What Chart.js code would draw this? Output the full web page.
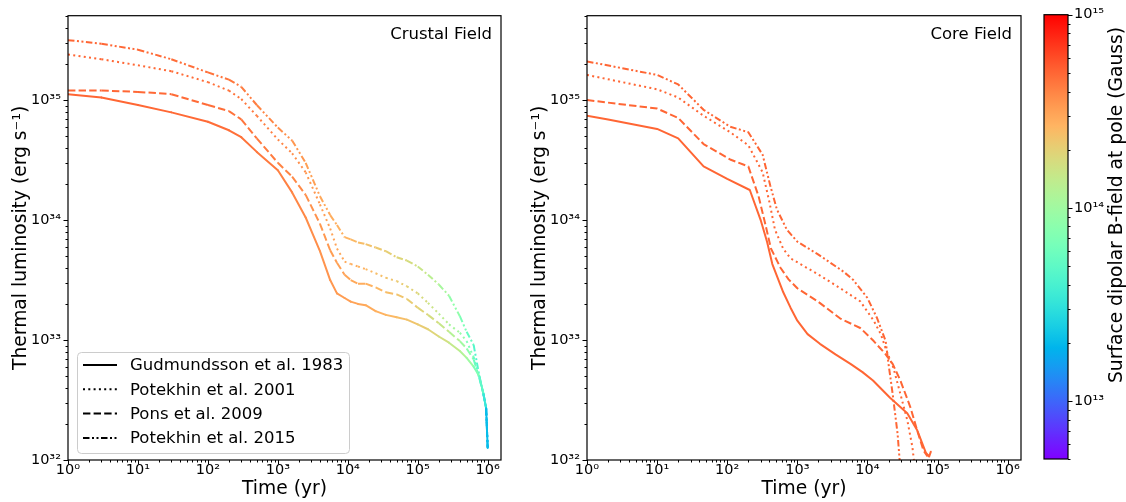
<!DOCTYPE html>
<html>
<head>
<meta charset="utf-8">
<title>Thermal luminosity of magnetars: crustal vs core field</title>
<script src="https://cdn.jsdelivr.net/npm/chart.js@4.4.1/dist/chart.umd.min.js"></script>
<style>
    html, body { margin: 0; padding: 0; background: #fff; }
    #figure { position: relative; width: 1126px; height: 502px; overflow: hidden; }
    #figure canvas { position: absolute; top: 0; }
</style>
</head>
<body>
<div id="figure">
    <canvas id="crustChart" width="520" height="502" style="left:0"></canvas>
    <canvas id="coreChart" width="520" height="502" style="left:519px"></canvas>
    <canvas id="fieldBar" width="96" height="502" style="left:1030px"></canvas>
</div>
<script>
// ===== Data =====
const modelNames = ['Gudmundsson et al. 1983', 'Potekhin et al. 2001', 'Pons et al. 2009', 'Potekhin et al. 2015'];

// Crustal field panel: common age grid (yr)
const crustAges = [1, 3, 10, 30, 100, 200, 300, 500, 1e3, 1.6e3, 2.5e3, 4e3, 5.6e3, 7e3, 9e3, 1.1e4, 1.4e4,
    1.8e4, 2.5e4, 3.5e4, 5e4, 7e4, 1e5, 1.4e5, 2e5, 2.8e5, 4e5, 5e5, 6.3e5, 7.6e5, 8.7e5, 9.5e5, 1e6];

// thermal luminosity (erg/s)
const crustLumGudmundsson = [1.12e35, 1.05e35, 9.1e34, 7.9e34, 6.6e34, 5.6e34, 4.9e34, 3.7e34, 2.6e34, 1.7e34, 1.05e34,
    5.5e33, 3.16e33, 2.45e33, 2.24e33, 2.09e33, 2.0e33, 1.95e33, 1.74e33, 1.62e33, 1.55e33, 1.48e33, 1.35e33, 1.23e33,
    1.07e33, 9.5e32, 8.1e32, 7.1e32, 6.0e32, 5.0e32, 3.55e32, 2.7e32, 1.26e32];
const crustLumPotekhin2001 = [2.4e35, 2.19e35, 1.95e35, 1.74e35, 1.41e35, 1.2e35, 1.02e35, 7.4e34, 4.7e34, 3.6e34, 2.5e34,
    1.35e34, 8.5e33, 5.8e33, 4.5e33, 4.3e33, 4.1e33, 3.9e33, 3.6e33, 3.3e33, 3.1e33, 2.8e33, 2.45e33, 2.04e33,
    1.66e33, 1.35e33, 1.15e33, 9.8e32, 7.2e32, 4.9e32, 3.55e32, 2.7e32, 1.26e32];
const crustLumPons = [1.2e35, 1.2e35, 1.17e35, 1.12e35, 9.1e34, 8.1e34, 6.9e34, 4.8e34, 3.0e34, 2.3e34, 1.62e34,
    9.3e33, 5.6e33, 4.4e33, 3.5e33, 3.16e33, 2.95e33, 2.95e33, 2.75e33, 2.5e33, 2.4e33, 2.2e33, 1.86e33, 1.62e33,
    1.38e33, 1.17e33, 9.8e32, 8.5e32, 6.9e32, 4.8e32, 3.55e32, 2.7e32, 1.26e32];
const crustLumPotekhin2015 = [3.16e35, 2.95e35, 2.63e35, 2.19e35, 1.7e35, 1.48e35, 1.29e35, 9.1e34, 5.9e34, 4.6e34, 3.0e34,
    1.58e34, 1.1e34, 9.1e33, 7.2e33, 6.9e33, 6.5e33, 6.3e33, 5.9e33, 5.5e33, 4.9e33, 4.6e33, 4.1e33, 3.5e33,
    2.9e33, 2.34e33, 1.58e33, 1.17e33, 9.1e32, 5.0e32, 3.55e32, 2.7e32, 1.26e32];

// surface dipolar field at the pole along each crustal track (units of 1e14 G)
const crustFieldGudmundsson = [5.0, 5.0, 4.95, 4.9, 4.8, 4.7, 4.6, 4.45, 4.2, 4.0, 3.8, 3.6, 3.45, 3.35, 3.25, 3.15, 3.05,
    2.95, 2.8, 2.65, 2.5, 2.35, 2.2, 2.0, 1.8, 1.55, 1.3, 1.1, 0.85, 0.6, 0.42, 0.28, 0.15];
const crustFieldPotekhin2001 = [5.0, 5.0, 4.92, 4.85, 4.7, 4.6, 4.45, 4.3, 4.0, 3.8, 3.55, 3.3, 3.15, 3.05, 2.95, 2.85, 2.75,
    2.65, 2.5, 2.35, 2.2, 2.05, 1.85, 1.65, 1.45, 1.2, 0.95, 0.8, 0.62, 0.45, 0.34, 0.25, 0.15];
const crustFieldPons = [5.0, 5.0, 4.93, 4.87, 4.75, 4.65, 4.52, 4.38, 4.1, 3.9, 3.7, 3.45, 3.3, 3.2, 3.1, 3.0, 2.9,
    2.8, 2.65, 2.5, 2.35, 2.2, 2.0, 1.8, 1.6, 1.35, 1.1, 0.92, 0.72, 0.5, 0.38, 0.27, 0.15];
const crustFieldPotekhin2015 = [5.0, 5.0, 4.9, 4.8, 4.6, 4.45, 4.3, 4.1, 3.8, 3.55, 3.3, 3.05, 2.9, 2.8, 2.7, 2.6, 2.5,
    2.4, 2.25, 2.1, 1.95, 1.8, 1.6, 1.4, 1.2, 0.95, 0.75, 0.62, 0.5, 0.4, 0.32, 0.24, 0.15];

// Core field panel (constant field)
const coreField = 5.0; // 1e14 G
const coreAgesGudmundsson = [1, 2, 10, 20, 46, 100, 210, 300, 370, 440, 630, 800, 1000, 1400, 2100, 3500, 5800, 8500,
    12000, 21000, 37000, 51000, 68000, 76000, 80000];
const coreLumGudmundsson = [7.4e34, 6.9e34, 5.75e34, 4.8e34, 2.8e34, 2.2e34, 1.78e34, 1.0e34, 6.6e33, 4.3e33, 2.5e33,
    1.86e33, 1.45e33, 1.12e33, 9.3e32, 7.6e32, 6.3e32, 5.4e32, 4.6e32, 3.3e32, 2.45e32, 1.78e32, 1.15e32, 1.07e32, 1.17e32];
const coreAgesPotekhin2001 = [1, 10, 20, 46, 110, 200, 320, 400, 480, 630, 800, 1100, 1950, 4100, 7900, 12300, 15500,
    18200, 23400, 29500, 37000, 43700, 46000];
const coreLumPotekhin2001 = [1.62e35, 1.23e35, 1.05e35, 7.4e34, 5.4e34, 4.2e34, 2.5e34, 1.41e34, 8.3e33, 5.75e33, 4.8e33,
    4.3e33, 3.55e33, 2.7e33, 2.1e33, 1.45e33, 1.12e33, 8.5e32, 5.9e32, 3.55e32, 2.15e32, 1.29e32, 1.0e32];
const coreAgesPons = [1, 10, 20, 46, 110, 200, 280, 355, 420, 575, 750, 1000, 1950, 4100, 7900, 12300, 18200, 23000,
    29500, 41000, 51000, 63000, 72000];
const coreLumPons = [1.0e35, 8.5e34, 7.1e34, 4.3e34, 3.2e34, 2.8e34, 1.58e34, 8.9e33, 5.8e33, 4.0e33, 3.2e33, 2.7e33,
    2.1e33, 1.51e33, 1.26e33, 9.8e32, 7.6e32, 6.3e32, 4.6e32, 2.75e32, 1.78e32, 1.2e32, 1.07e32];
const coreAgesPotekhin2015 = [1, 10, 20, 46, 110, 200, 320, 410, 510, 710, 1000, 1950, 4600, 6300, 10000, 13800, 18200,
    20000, 22900, 26900, 28800];
const coreLumPotekhin2015 = [2.1e35, 1.62e35, 1.35e35, 8.3e34, 6.0e34, 5.4e34, 3.5e34, 1.95e34, 1.23e34, 8.3e33, 6.6e33,
    5.2e33, 3.7e33, 3.16e33, 2.24e33, 1.51e33, 9.8e32, 6.3e32, 3.55e32, 1.66e32, 1.0e32];

// axis ranges
const AGE_MIN = 1, AGE_MAX = 1.55e6;
const LUM_MIN = 1e32, LUM_MAX = 5.05e35;
const FIELD_MIN = 5e12, FIELD_MAX = 1e15, FIELD_UNIT = 1e14;

// ===== Helpers =====
Chart.defaults.font.family = "'DejaVu Sans', sans-serif";
Chart.defaults.color = '#000';
const TITLE_FONT = "18.7px 'DejaVu Sans'";

// matplotlib "rainbow" colormap
function rainbow(x) {
    x = Math.max(0, Math.min(1, x));
    const r = Math.min(1, Math.abs(2 * x - 0.5));
    const g = Math.max(0, Math.sin(Math.PI * x));
    const b = Math.max(0, Math.cos(Math.PI * x / 2));
    return `rgb(${Math.round(r * 255)},${Math.round(g * 255)},${Math.round(b * 255)})`;
}
function fieldColor(gauss) {
    const lo = Math.log10(FIELD_MIN), hi = Math.log10(FIELD_MAX);
    return rainbow((Math.log10(gauss) - lo) / (hi - lo));
}

const lineStyles = [
    { borderDash: [], borderCapStyle: 'round' },
    { borderDash: [2, 3.3], borderCapStyle: 'butt' },
    { borderDash: [7.4, 3.2], borderCapStyle: 'butt' },
    { borderDash: [6.5, 2.5, 2, 2.5, 2, 2.5], borderCapStyle: 'butt' }
];

const SUP = { '0': '⁰', '1': '¹', '2': '²', '3': '³', '4': '⁴', '5': '⁵', '6': '⁶', '7': '⁷', '8': '⁸', '9': '⁹', '-': '⁻' };
function isDecade(v) {
    const e = Math.round(Math.log10(v));
    return Math.abs(v / Math.pow(10, e) - 1) < 1e-6;
}
function powLabel(v) {
    if (!isDecade(v)) return '';
    return '10' + String(Math.round(Math.log10(v))).split('').map(c => SUP[c]).join('');
}
function logTicks(min, max) {
    const out = [];
    for (let e = Math.floor(Math.log10(min)); e <= Math.ceil(Math.log10(max)); e++) {
        for (let m = 1; m <= 9; m++) {
            const v = m * Math.pow(10, e);
            if (v >= min * 0.999 && v <= max * 1.001) out.push({ value: v, major: m === 1 });
        }
    }
    return out;
}

// frame, outward ticks and panel caption
const panelFrame = {
    id: 'panelFrame',
    afterDatasetsDraw(chart, args, opts) {
        const { ctx, chartArea: a } = chart;
        ctx.save();
        ctx.strokeStyle = '#000';
        ctx.lineWidth = 1;
        Object.values(chart.scales).forEach(s => {
            if (s.options.display === false) return;
            s.ticks.forEach(t => {
                const len = isDecade(t.value) ? 4.5 : 2.5;
                const p = Math.round(s.getPixelForValue(t.value)) + 0.5;
                ctx.beginPath();
                if (s.position === 'bottom') { ctx.moveTo(p, a.bottom); ctx.lineTo(p, a.bottom + len); }
                else if (s.position === 'left') { ctx.moveTo(a.left, p); ctx.lineTo(a.left - len, p); }
                else if (s.position === 'right') { ctx.moveTo(a.right, p); ctx.lineTo(a.right + len, p); }
                ctx.stroke();
            });
        });
        ctx.lineWidth = 1.2;
        ctx.strokeRect(a.left, a.top, a.right - a.left, a.bottom - a.top);
        if (opts.label) {
            ctx.font = "16.5px 'DejaVu Sans'";
            ctx.fillStyle = '#000';
            ctx.textAlign = 'right';
            ctx.textBaseline = 'middle';
            ctx.fillText(opts.label, a.right - 9, a.top + 19);
        }
        ctx.restore();
    }
};

// legend box in the lower left corner of the crustal panel
const modelLegend = {
    id: 'modelLegend',
    afterDraw(chart, args, opts) {
        if (!opts.show) return;
        const { ctx, chartArea: a } = chart;
        const x0 = a.left + 9, y0 = a.bottom - 108, w = 272, h = 101, rowH = 24.3;
        ctx.save();
        ctx.beginPath();
        if (ctx.roundRect) ctx.roundRect(x0 + 0.5, y0 + 0.5, w, h, 4); else ctx.rect(x0 + 0.5, y0 + 0.5, w, h);
        ctx.fillStyle = 'rgba(255,255,255,0.8)';
        ctx.fill();
        ctx.strokeStyle = '#cccccc';
        ctx.lineWidth = 1;
        ctx.stroke();
        ctx.font = "16.5px 'DejaVu Sans'";
        ctx.textBaseline = 'middle';
        chart.data.datasets.forEach((ds, i) => {
            const y = y0 + 13 + i * rowH;
            ctx.beginPath();
            ctx.setLineDash(ds.borderDash);
            ctx.lineCap = 'butt';
            ctx.strokeStyle = '#000';
            ctx.lineWidth = 2;
            ctx.moveTo(x0 + 6, y);
            ctx.lineTo(x0 + 40, y);
            ctx.stroke();
            ctx.setLineDash([]);
            ctx.fillStyle = '#000';
            ctx.fillText(ds.label, x0 + 53, y + 1);
        });
        ctx.restore();
    }
};

function panelScales() {
    return {
        x: {
            type: 'logarithmic', min: AGE_MIN, max: AGE_MAX, bounds: 'data',
            afterBuildTicks: s => { s.ticks = logTicks(s.min, s.max); },
            afterFit: s => { s.height = 42; },
            grid: { drawOnChartArea: false, drawTicks: false },
            border: { display: false },
            ticks: { callback: powLabel, autoSkip: false, maxRotation: 0, minRotation: 0, padding: 2, font: { size: 14.5 } },
            title: { display: true, text: 'Time (yr)', font: { size: 18.7 }, padding: { top: 0, bottom: 2 } }
        },
        y: {
            type: 'logarithmic', min: LUM_MIN, max: LUM_MAX, bounds: 'data',
            afterBuildTicks: s => { s.ticks = logTicks(s.min, s.max); },
            afterFit: s => { s.width = 68; },
            grid: { drawOnChartArea: false, drawTicks: false },
            border: { display: false },
            ticks: { callback: powLabel, autoSkip: false, padding: 7, font: { size: 14.5 } },
            title: { display: true, text: 'Thermal luminosity (erg s⁻¹)', font: { size: 18.7 }, padding: { top: 10, bottom: 0 } }
        }
    };
}

function panelOptions(label, showLegend, padRight) {
    return {
        responsive: false, animation: false, events: [],
        layout: { padding: { top: 12, right: padRight, left: 0, bottom: 0 } },
        elements: { point: { radius: 0 }, line: { tension: 0 } },
        plugins: {
            legend: { display: false }, tooltip: { enabled: false },
            panelFrame: { label: label },
            modelLegend: { show: showLegend }
        },
        scales: panelScales()
    };
}

// ===== Crustal field panel =====
function crustDataset(i, lum, field) {
    const st = lineStyles[i];
    return {
        label: modelNames[i],
        data: crustAges.map((t, k) => ({ x: t, y: lum[k] })),
        borderColor: fieldColor(field[0] * FIELD_UNIT),
        borderWidth: 2,
        pointRadius: 0,
        borderJoinStyle: 'round',
        borderDash: st.borderDash,
        borderCapStyle: st.borderCapStyle,
        segment: {
            borderColor: c => fieldColor(Math.sqrt(field[c.p0DataIndex] * field[c.p1DataIndex]) * FIELD_UNIT),
            borderDash: st.borderDash,
            borderCapStyle: st.borderCapStyle
        }
    };
}

new Chart(document.getElementById('crustChart'), {
    type: 'line',
    data: {
        datasets: [
            crustDataset(0, crustLumGudmundsson, crustFieldGudmundsson),
            crustDataset(1, crustLumPotekhin2001, crustFieldPotekhin2001),
            crustDataset(2, crustLumPons, crustFieldPons),
            crustDataset(3, crustLumPotekhin2015, crustFieldPotekhin2015)
        ]
    },
    options: panelOptions('Crustal Field', true, 19),
    plugins: [panelFrame, modelLegend]
});

// ===== Core field panel =====
function coreDataset(i, ages, lum) {
    const st = lineStyles[i];
    return {
        label: modelNames[i],
        data: ages.map((t, k) => ({ x: t, y: lum[k] })),
        borderColor: fieldColor(coreField * FIELD_UNIT),
        borderWidth: 2,
        pointRadius: 0,
        borderJoinStyle: 'round',
        borderDash: st.borderDash,
        borderCapStyle: st.borderCapStyle
    };
}

new Chart(document.getElementById('coreChart'), {
    type: 'line',
    data: {
        datasets: [
            coreDataset(0, coreAgesGudmundsson, coreLumGudmundsson),
            coreDataset(1, coreAgesPotekhin2001, coreLumPotekhin2001),
            coreDataset(2, coreAgesPons, coreLumPons),
            coreDataset(3, coreAgesPotekhin2015, coreLumPotekhin2015)
        ]
    },
    options: panelOptions('Core Field', false, 18),
    plugins: [panelFrame, modelLegend]
});

// ===== Colour bar =====
const colorBar = {
    id: 'colorBar',
    beforeDatasetsDraw(chart) {
        const { ctx, chartArea: a } = chart;
        const s = chart.scales.y;
        const grad = ctx.createLinearGradient(0, s.getPixelForValue(FIELD_MIN), 0, s.getPixelForValue(FIELD_MAX));
        for (let k = 0; k <= 64; k++) grad.addColorStop(k / 64, rainbow(k / 64));
        ctx.save();
        ctx.fillStyle = grad;
        ctx.fillRect(a.left, a.top, a.right - a.left, a.bottom - a.top);
        ctx.restore();
    },
    afterDraw(chart, args, opts) {
        const { ctx } = chart;
        ctx.save();
        ctx.translate(opts.titleX, opts.titleY);
        ctx.rotate(-Math.PI / 2);
        ctx.font = TITLE_FONT;
        ctx.fillStyle = '#000';
        ctx.textAlign = 'center';
        ctx.textBaseline = 'middle';
        ctx.fillText(opts.title, 0, 0);
        ctx.restore();
    }
};

new Chart(document.getElementById('fieldBar'), {
    type: 'line',
    data: { datasets: [] },
    options: {
        responsive: false, animation: false, events: [],
        layout: { padding: { top: 12, right: 0, left: 14, bottom: 43 } },
        plugins: {
            legend: { display: false }, tooltip: { enabled: false },
            panelFrame: {},
            colorBar: { title: 'Surface dipolar B-field at pole (Gauss)', titleX: 87, titleY: 205 }
        },
        scales: {
            x: { display: false },
            y: {
                type: 'logarithmic', position: 'right', min: FIELD_MIN, max: FIELD_MAX, bounds: 'data',
                afterBuildTicks: s => { s.ticks = logTicks(s.min, s.max); },
                afterFit: s => { s.width = 58; },
                grid: { drawOnChartArea: false, drawTicks: false },
                border: { display: false },
                ticks: { callback: powLabel, autoSkip: false, padding: 6, font: { size: 14.5 } }
            }
        }
    },
    plugins: [colorBar, panelFrame]
});
</script>
</body>
</html>
